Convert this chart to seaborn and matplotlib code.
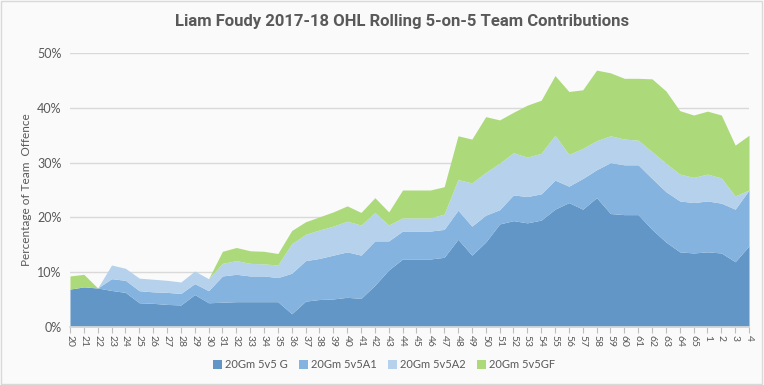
import pandas as pd
import seaborn as sns
import matplotlib
matplotlib.use("Agg")
import matplotlib.pyplot as plt
from matplotlib.ticker import PercentFormatter


games = [str(g) for g in range(20, 66)] + ["1", "2", "3", "4"]

# individual contributions (%), stacked in this order
goals = [6.9, 7.3, 7.1, 6.65, 6.3, 4.4, 4.3, 4.1, 4.0, 5.9,
         4.4, 4.5, 4.6, 4.6, 4.6, 4.6, 2.4, 4.7, 5.0, 5.1,
         5.4, 5.2, 7.6, 10.4, 12.4, 12.4, 12.4, 12.7, 16.0, 13.1,
         15.5, 18.8, 19.4, 19.0, 19.5, 21.5, 22.7, 21.5, 23.6, 20.7,
         20.5, 20.5, 17.8, 15.5, 13.7, 13.5, 13.7, 13.5, 11.9, 14.8]
primary_assists = [0, 0, 0, 2.15, 2.2, 2.2, 2.1, 2.2, 2.1, 2.0,
                   2.2, 4.8, 5.0, 4.7, 4.7, 4.4, 7.4, 7.4, 7.5, 8.0,
                   8.3, 7.9, 8.1, 5.3, 5.1, 5.1, 5.1, 5.1, 5.3, 5.3,
                   4.9, 2.6, 4.7, 4.8, 4.8, 5.3, 3.0, 5.6, 5.1, 9.3,
                   9.1, 9.1, 9.3, 9.2, 9.3, 9.2, 9.3, 9.1, 9.6, 10.2]
secondary_assists = [0, 0, 0, 2.5, 2.2, 2.3, 2.3, 2.2, 2.1, 2.3,
                     2.2, 2.3, 2.5, 2.3, 2.2, 2.3, 5.4, 4.8, 5.2, 5.3,
                     5.6, 5.5, 5.2, 2.9, 2.4, 2.4, 2.4, 2.8, 5.6, 7.9,
                     7.8, 8.5, 7.7, 7.2, 7.4, 8.2, 5.8, 5.5, 5.3, 4.9,
                     4.7, 4.5, 4.9, 5.2, 4.9, 4.6, 4.9, 4.6, 2.4, 0]
goals_for = [2.4, 2.3, 0, 0, 0, 0, 0, 0, 0, 0,
             0, 2.2, 2.4, 2.3, 2.3, 2.1, 2.4, 2.3, 2.4, 2.6,
             2.8, 2.3, 2.7, 2.4, 5.1, 5.1, 5.1, 5.0, 8.0, 8.0,
             10.2, 7.9, 7.4, 9.5, 9.7, 10.9, 11.5, 10.7, 12.9, 11.5,
             11.1, 11.3, 13.3, 13.2, 11.6, 11.4, 11.5, 11.5, 9.3, 10.0]

series_names = ["20Gm 5v5 G", "20Gm 5v5A1", "20Gm 5v5A2", "20Gm 5v5GF"]
colors = ["#6196c6", "#83b3de", "#b6d1eb", "#acda7b"]

df = pd.DataFrame({"game": games,
                   series_names[0]: goals,
                   series_names[1]: primary_assists,
                   series_names[2]: secondary_assists,
                   series_names[3]: goals_for})

sns.set_theme(style="white")
plt.rcParams["font.family"] = ["Lato", "DejaVu Sans"]

grey = "#595959"
fig = plt.figure(figsize=(7.64, 3.85), dpi=100, facecolor="#fafafa")
ax = fig.add_axes([0.0916, 0.151, 0.8888, 0.711])
ax.set_facecolor("#fafafa")

x = list(range(len(games)))
ax.stackplot(x, [df[n] for n in series_names], labels=series_names,
             colors=colors, linewidth=0, zorder=2)

ax.set_xlim(0, len(games) - 1)
ax.set_ylim(0, 50)
ax.set_yticks(range(0, 51, 10))
ax.yaxis.set_major_formatter(PercentFormatter(decimals=0))
ax.set_xticks(x)
ax.set_xticklabels(games, rotation=-90, fontsize=7.5)
ax.tick_params(axis="y", labelsize=9, colors=grey, length=0, pad=6)
ax.tick_params(axis="x", colors="#bfbfbf", labelcolor=grey, length=4,
               width=0.8, direction="out", bottom=True, pad=2)
ax.grid(axis="y", color="#d9d9d9", linewidth=1, zorder=0)
ax.set_axisbelow(True)
for side in ["top", "right", "left"]:
    ax.spines[side].set_visible(False)
ax.spines["bottom"].set_color("#d9d9d9")

ax.set_ylabel("Percentage of Team  Offence", fontsize=8.5, color=grey, labelpad=4)

fig.text(0.526, 0.945, "Liam Foudy 2017-18 OHL Rolling 5-on-5 Team Contributions",
         ha="center", va="center", fontsize=12, fontweight="bold", color=grey,
         family=["Roboto", "DejaVu Sans"])

leg = fig.legend(*ax.get_legend_handles_labels(), loc="center",
                 bbox_to_anchor=(0.503, 0.052), ncol=4, frameon=False,
                 fontsize=8, handlelength=0.8, handleheight=0.8,
                 handletextpad=0.3, columnspacing=1.0)
for t in leg.get_texts():
    t.set_color(grey)

fig.patches.append(plt.Rectangle((0.001, 0.002), 0.997, 0.995,
                                 transform=fig.transFigure, fill=False,
                                 edgecolor="#d9d9d9", linewidth=1))

fig.savefig("out.png", dpi=100, facecolor=fig.get_facecolor())
